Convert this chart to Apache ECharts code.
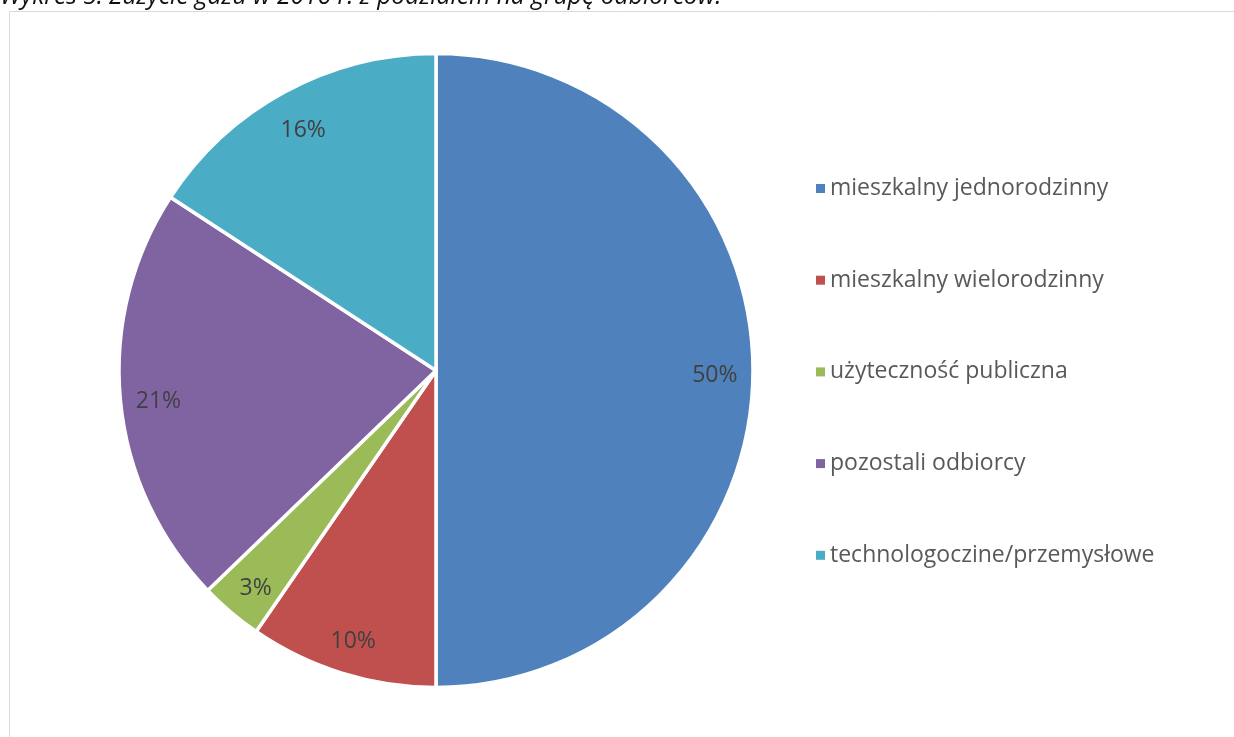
<!DOCTYPE html>
<html>
<head>
<meta charset="utf-8">
<script src="https://cdn.jsdelivr.net/npm/echarts@6/dist/echarts.min.js"></script>
<style>
html,body{margin:0;padding:0;background:#fff;}
#chart{width:1234px;height:737px;}
</style>
</head>
<body>
<div id="chart"></div>
<script>
var titleText = 'Wykres 5. Zużycie gazu w 2016 r. z podziałem na grupę odbiorców.';
var categories = ['mieszkalny jednorodzinny','mieszkalny wielorodzinny','użyteczność publiczna','pozostali odbiorcy','technologoczine/przemysłowe'];
var shares = [50, 9.6, 3.2, 21.4, 15.8];
var colors = ['#4F81BD','#C0504D','#9BBB59','#8064A2','#4BACC6'];

var FONT = '"Open Sans", sans-serif';
var chart = echarts.init(document.getElementById('chart'), null, {renderer:'canvas'});
var data = categories.map(function(c,i){ return {name:c, value:shares[i], itemStyle:{color:colors[i]}}; });
var R = 317;
chart.setOption({
  animation:false,
  color: colors,
  graphic:[
    {type:'rect', shape:{x:9.5,y:11.5,width:1400,height:900}, style:{fill:'none', stroke:'#d9d9d9', lineWidth:1}, z:0},
    {type:'text', x:0, y:9.5, style:{text:titleText, font:'italic 24.6px "Open Sans", sans-serif', fill:'#111', verticalAlign:'bottom', align:'left'}, z:10}
  ],
  legend:{
    orient:'vertical', left:811, top:172,
    icon:'rect', itemWidth:9, itemHeight:9, itemGap:68.7,
    data: categories,
    itemStyle:{borderWidth:0},
    textStyle:{fontFamily:FONT, fontSize:23, lineHeight:20, color:'#595959', padding:[0,0,0,0]}
  },
  series:[
    {
      type:'pie', center:[436,370.5], radius:[0,R], startAngle:90, clockwise:true,
      data:data, silent:true,
      itemStyle:{borderColor:'#fff', borderWidth:3.5},
      label:{show:false}, labelLine:{show:false}
    },
    {
      type:'pie', center:[436,370.5], radius:[R*0.74,R], startAngle:90, clockwise:true,
      data:categories.map(function(c,i){return {name:c, value:shares[i]};}),
      silent:true, percentPrecision:0,
      itemStyle:{color:'rgba(0,0,0,0)', borderWidth:0},
      label:{show:true, position:'inside', formatter:'{d}%', fontFamily:FONT, fontSize:23, color:'#404040', offset:[0,5]},
      labelLine:{show:false}, legendHoverLink:false
    }
  ]
});
</script>
</body>
</html>
